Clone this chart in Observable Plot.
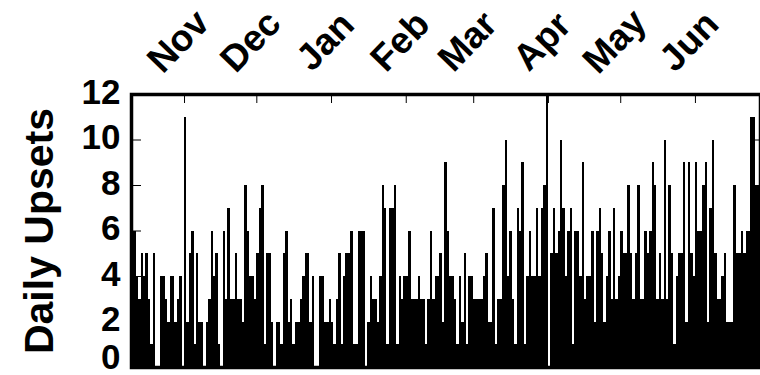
<!DOCTYPE html>
<html>
<head>
<meta charset="utf-8">
<script src="https://cdn.jsdelivr.net/npm/d3@7"></script>
<script src="https://cdn.jsdelivr.net/npm/@observablehq/plot@0.6"></script>
<style>
  html, body { margin: 0; padding: 0; background: #fff; }
</style>
</head>
<body>
<div id="chart"></div>
<script>
// ---- data ----
const firstDay = "2006-10-10";
const dailyUpsets = [
  // Oct 10 – Dec 13
  6,6,4,3,5,4,5,3,1,5, 0,0,4,4,3,2,4,4,2,3, 4,0,11,2,5,6,1,5,2,2,
  0,2,3,6,4,5,1,0,6,3, 7,3,3,5,3,3,2,8,6,4, 4,3,5,7,8,1,5,5,2,0,
  2,2,1,5,6,
  // Dec 14 – Feb 17
  2,3,1,2,2,3,4,5,5,2, 4,0,0,4,4,2,2,3,2,1, 3,5,1,4,5,5,6,1,1,6,
  6,6,0,2,4,3,3,2,4,8, 7,1,7,7,8,1,4,3,4,4, 6,3,3,3,4,3,3,1,3,6,
  3,4,4,5,2,9,
  // Feb 18 – Apr 23
  6,4,4,3,1,4,2,5,1,4, 4,3,3,3,3,4,5,2,2,7, 1,3,3,8,10,4,6,3,1,7,
  6,9,1,4,6,4,4,7,4,7, 8,12,0,5,7,5,6,10,7,4, 6,7,1,6,6,4,9,3,4,4,
  6,2,6,7,5,
  // Apr 24 – Jun 26
  2,4,6,3,7,3,4,6,5,5, 8,5,3,5,8,3,3,6,5,6, 9,8,3,5,3,10,3,8,5,1,
  4,5,5,9,2,9,5,4,9,6, 6,8,9,2,7,10,5,3,3,4, 5,2,2,2,8,5,5,6,5,6,
  6,11,11,8,8
];
const monthStarts = ["2006-11-01","2006-12-01","2007-01-01","2007-02-01","2007-03-01","2007-04-01","2007-05-01","2007-06-01"];
const monthLabels = ["Nov","Dec","Jan","Feb","Mar","Apr","May","Jun"];
const yTicks = [0, 2, 4, 6, 8, 10, 12];
const yInnerTicks = [2, 4, 6, 8, 10];
const yLabel = "Daily Upsets";

// ---- build table ----
const start = new Date(firstDay + "T00:00:00Z");
const data = dailyUpsets.map((v, i) => ({date: d3.utcDay.offset(start, i), value: v}));
const end = d3.utcDay.offset(start, dailyUpsets.length);
const monthDates = monthStarts.map(s => new Date(s + "T00:00:00Z"));

const chart = Plot.plot({
  width: 760,
  height: 375,
  marginLeft: 131,
  marginRight: 0,
  marginTop: 94,
  marginBottom: 8,
  style: {fontFamily: "'Liberation Sans', Arial, sans-serif", fontWeight: "bold", color: "black", background: "white"},
  x: {type: "utc", domain: [start, end], axis: null},
  y: {domain: [0, 12], axis: null},
  marks: [
    Plot.rectY(data, {x: "date", y: "value", interval: "day", fill: "black", inset: 0, shapeRendering: "crispEdges"}),
    Plot.axisY(yTicks.filter(t => t > 0), {anchor: "left", tickSize: 0, tickPadding: 11, fontSize: 35, label: null, dy: -2}),
    Plot.axisY(yTicks.filter(t => t === 0), {anchor: "left", tickSize: 0, tickPadding: 11, fontSize: 35, label: null, dy: -10}),
    Plot.axisY(yInnerTicks, {anchor: "left", tickSize: -10, tickFormat: () => "", label: null}),
    Plot.axisY(yInnerTicks, {anchor: "right", tickSize: -8, tickFormat: () => "", label: null}),
    Plot.axisX(monthDates, {anchor: "top", tickSize: -8, tickFormat: () => "", label: null}),
    Plot.text(monthLabels, {x: monthDates, frameAnchor: "top", textAnchor: "middle", lineAnchor: "middle", dy: -53, dx: -6, rotate: -46, fontSize: 37}),
    Plot.text([yLabel], {frameAnchor: "left", textAnchor: "middle", lineAnchor: "middle", dx: -92, rotate: -90, fontSize: 41}),
    Plot.frame({stroke: "black", strokeWidth: 3.5})
  ]
});
document.getElementById("chart").appendChild(chart);
</script>
</body>
</html>
